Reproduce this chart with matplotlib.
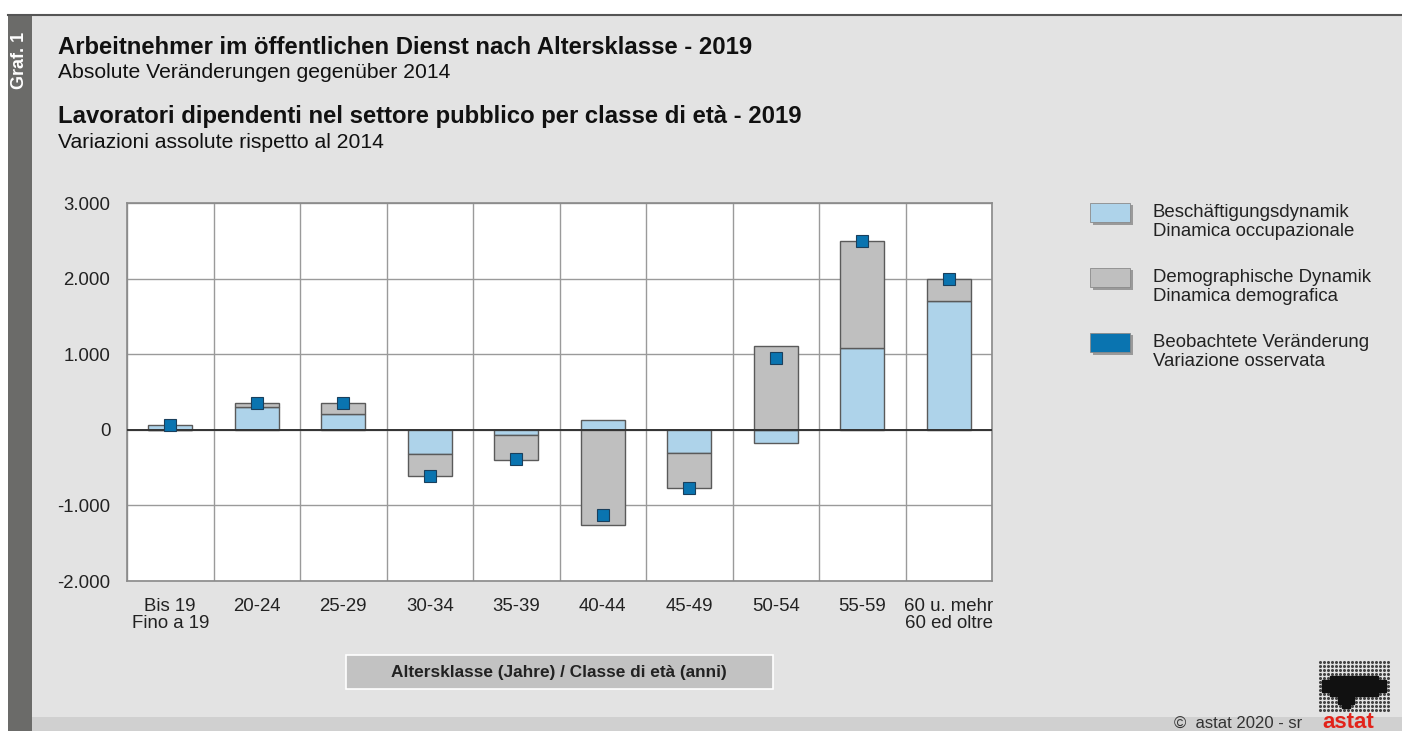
import matplotlib.pyplot as plt
import numpy as np
from matplotlib.patches import Rectangle
from matplotlib.ticker import FuncFormatter

plt.rcParams["font.family"] = ["Liberation Sans", "DejaVu Sans"]

CATEGORIES = ["Bis 19\nFino a 19", "20-24", "25-29", "30-34", "35-39",
              "40-44", "45-49", "50-54", "55-59", "60 u. mehr\n60 ed oltre"]
OCCUPATIONAL = [60, 300, 203, -317, -66, 132, -304, -170, 1085, 1710]
DEMOGRAPHIC = [0, 57, 154, -296, -331, -1265, -468, 1115, 1415, 290]
OBSERVED = [60, 357, 357, -605, -390, -1125, -767, 950, 2500, 2000]

LEGEND_LABELS = [
    "Beschäftigungsdynamik\nDinamica occupazionale",
    "Demographische Dynamik\nDinamica demografica",
    "Beobachtete Veränderung\nVariazione osservata",
]

BG = "#e3e3e3"
C_OCC = "#aed3ea"
C_DEM = "#bfbfbf"
C_OBS = "#0a74b0"
EDGE = "#5a5a5a"

W, H = 1402, 731
fig = plt.figure(figsize=(W / 100, H / 100), dpi=100, facecolor=BG)


def fx(px):
    return px / W


def fy(py):
    return 1 - py / H


# page frame
fig.add_artist(Rectangle((0, fy(14)), 1, 1 - fy(14), transform=fig.transFigure,
                         facecolor="white", edgecolor="none", zorder=0))
fig.add_artist(Rectangle((0, 0), fx(8), 1, transform=fig.transFigure,
                         facecolor="white", edgecolor="none", zorder=0))
fig.add_artist(Rectangle((fx(8), 0), fx(24), fy(14), transform=fig.transFigure,
                         facecolor="#6b6b69", edgecolor="none", zorder=1))
fig.add_artist(plt.Line2D([fx(8), 1], [fy(15), fy(15)], transform=fig.transFigure,
                          color="#555555", linewidth=1.5, zorder=2))
fig.add_artist(Rectangle((fx(32), 0), 1, fy(717), transform=fig.transFigure,
                         facecolor="#d0d0d0", edgecolor="none", zorder=1))
fig.text(fx(20), fy(60), "Graf. 1", rotation=90, color="white", fontsize=13,
         fontweight="bold", ha="center", va="center")

# titles
fig.text(fx(58), fy(47), "Arbeitnehmer im öffentlichen Dienst nach Altersklasse - 2019",
         fontsize=17.2, fontweight="bold", va="center", color="#111111")
fig.text(fx(58), fy(73), "Absolute Veränderungen gegenüber 2014",
         fontsize=15.2, va="center", color="#111111")
fig.text(fx(58), fy(117), "Lavoratori dipendenti nel settore pubblico per classe di età - 2019",
         fontsize=17.2, fontweight="bold", va="center", color="#111111")
fig.text(fx(58), fy(142), "Variazioni assolute rispetto al 2014",
         fontsize=15.2, va="center", color="#111111")

# chart
ax = fig.add_axes([fx(127), fy(581), fx(992 - 127), fy(203) - fy(581)])
ax.set_facecolor("white")
x = np.arange(len(CATEGORIES))
occ = np.array(OCCUPATIONAL, dtype=float)
dem = np.array(DEMOGRAPHIC, dtype=float)
same_sign = np.sign(occ) == np.sign(dem)
dem_bottom = np.where(same_sign, occ, 0.0)
bw = 0.51
ax.bar(x, occ, width=bw, color=C_OCC, edgecolor=EDGE, linewidth=1.0, zorder=3)
ax.bar(x, dem, bottom=dem_bottom, width=bw, color=C_DEM, edgecolor=EDGE,
       linewidth=1.0, zorder=3)
ax.plot(x, OBSERVED, linestyle="none", marker="s", markersize=8.5,
        markerfacecolor=C_OBS, markeredgecolor="#1a3f5c", markeredgewidth=0.8, zorder=5)
ax.axhline(0, color="#333333", linewidth=1.4, zorder=4)

ax.set_xlim(-0.5, len(CATEGORIES) - 0.5)
ax.set_ylim(-2000, 3000)
ax.set_yticks(np.arange(-2000, 3001, 1000))
ax.yaxis.set_major_formatter(FuncFormatter(lambda v, _: f"{v:,.0f}".replace(",", ".")))
ax.set_xticks(x)
ax.set_xticklabels(CATEGORIES, linespacing=1.05)
ax.set_xticks(np.arange(-0.5, len(CATEGORIES), 1.0), minor=True)
ax.tick_params(axis="both", which="both", length=0, labelsize=13.4, colors="#222222")
ax.tick_params(axis="x", pad=12)
ax.tick_params(axis="y", pad=12)
ax.grid(True, axis="y", which="major", color="#9a9a9a", linewidth=1.0, zorder=1)
ax.grid(True, axis="x", which="minor", color="#9a9a9a", linewidth=1.0, zorder=1)
for sp in ax.spines.values():
    sp.set_color("#8a8a8a")
    sp.set_linewidth(1.2)

# x axis label box
fig.add_artist(Rectangle((fx(346), fy(689)), fx(773 - 346), fy(655) - fy(689),
                         transform=fig.transFigure, facecolor="#c2c2c2",
                         edgecolor="white", linewidth=1.2, zorder=2))
fig.text(fx(559), fy(672), "Altersklasse (Jahre) / Classe di età (anni)",
         fontsize=12.4, fontweight="bold", ha="center", va="center", color="#222222")

# legend
legend_colors = [C_OCC, C_DEM, C_OBS]
legend_tops = [203, 268, 333]
for col, top, lab in zip(legend_colors, legend_tops, LEGEND_LABELS):
    fig.add_artist(Rectangle((fx(1093), fy(top + 22)), fx(40), fy(top + 2) - fy(top + 22),
                             transform=fig.transFigure, facecolor="#9a9a9a",
                             edgecolor="none", zorder=2))
    fig.add_artist(Rectangle((fx(1090), fy(top + 19)), fx(40), fy(top) - fy(top + 19),
                             transform=fig.transFigure, facecolor=col,
                             edgecolor="#8a8a8a", linewidth=0.6, zorder=3))
    fig.text(fx(1153), fy(top + 19), lab, fontsize=13.4, va="center", ha="left",
             linespacing=1.2, color="#222222")

# footer
fig.text(fx(1302), fy(723), "©  astat 2020 - sr", fontsize=12, ha="right",
         va="center", color="#333333")
fig.text(fx(1348), fy(722), "astat", fontsize=16, fontweight="bold", ha="center",
         va="center", color="#e2231a")
gx, gy = np.meshgrid(np.arange(1320, 1392, 4), np.arange(662, 712, 4))
gx, gy = gx.ravel(), gy.ravel()
blob = (((gx - 1354) / 33.0) ** 2 + ((gy - 686) / 12.0) ** 2 < 1) | \
       (((gx - 1346) / 9.0) ** 2 + ((gy - 698) / 9.0) ** 2 < 1)
fig.add_artist(plt.Line2D(fx(gx[~blob]), fy(gy[~blob]), transform=fig.transFigure,
                          linestyle="none", marker="o", markersize=1.2,
                          color="#444444", zorder=2))
fig.add_artist(plt.Line2D(fx(gx[blob]), fy(gy[blob]), transform=fig.transFigure,
                          linestyle="none", marker="s", markersize=3.0,
                          color="#111111", zorder=2))

fig.savefig("out.png", dpi=100, facecolor=BG)
